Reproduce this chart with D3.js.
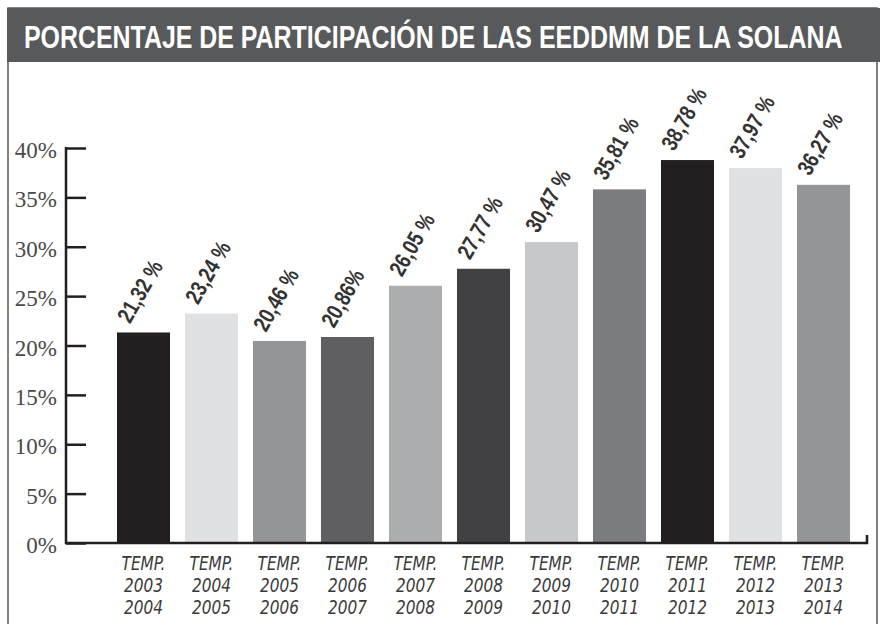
<!DOCTYPE html>
<html>
<head>
  <meta charset="utf-8">
  <script src="https://d3js.org/d3.v7.min.js"></script>
  <style>
    body { margin: 0; background: #fff; }
    svg { display: block; }
  </style>
</head>
<body>
<svg id="chart" width="880" height="624"></svg>
<script>
  // temporadas y porcentajes
  var seasons = ['2003-2004', '2004-2005', '2005-2006', '2006-2007', '2007-2008', '2008-2009',
                 '2009-2010', '2010-2011', '2011-2012', '2012-2013', '2013-2014'];
  var values = [21.32, 23.24, 20.46, 20.86, 26.05, 27.77, 30.47, 35.81, 38.78, 37.97, 36.27];
  var valueLabels = ['21,32 %', '23,24 %', '20,46 %', '20,86%', '26,05 %', '27,77 %',
                     '30,47 %', '35,81 %', '38,78 %', '37,97 %', '36,27 %'];
  var barColors = ['#231f20', '#e0e1e2', '#939598', '#5f5f62', '#acadaf', '#414042',
                   '#c7c8ca', '#7b7c7f', '#231f20', '#e0e1e2', '#939598'];
  var yTicks = [0, 5, 10, 15, 20, 25, 30, 35, 40];

  var sans = '"Liberation Sans", Arial, sans-serif';
  var cond = '"DejaVu Sans Condensed", "DejaVu Sans", sans-serif';

  var svg = d3.select('#chart');

  // marco y cabecera
  svg.append('rect')
    .attr('x', 8).attr('y', 8).attr('width', 869).attr('height', 640)
    .attr('fill', 'none').attr('stroke', '#58595b').attr('stroke-width', 1.5);
  svg.append('rect')
    .attr('x', 7).attr('y', 8).attr('width', 873).attr('height', 54)
    .attr('fill', '#58595b');

  var title = svg.append('text')
    .attr('fill', '#fff')
    .attr('font-family', sans)
    .attr('font-weight', 'bold')
    .attr('font-size', 31)
    .text('PORCENTAJE DE PARTICIPACIÓN DE LAS EEDDMM DE LA SOLANA');
  var tw = title.node().getComputedTextLength();
  title.attr('transform', 'translate(24,47.5) scale(' + (819 / tw) + ',1)');

  var x = d3.scaleBand()
    .domain(seasons)
    .range([109.5, 857.5])
    .paddingInner(0.22)
    .paddingOuter(0.11);

  var y = d3.scaleLinear()
    .domain([0, 40])
    .range([543, 148]);

  // eje y
  var yAxis = svg.append('g')
    .attr('transform', 'translate(66,0)')
    .call(d3.axisRight(y).tickValues(yTicks).tickSize(20).tickFormat(''));
  yAxis.select('.domain').remove();
  yAxis.selectAll('.tick line').attr('stroke', '#231f20').attr('stroke-width', 2.5);

  svg.append('line')
    .attr('x1', 66).attr('x2', 66).attr('y1', y(40) - 1).attr('y2', y(0) + 1.2)
    .attr('stroke', '#231f20').attr('stroke-width', 2.5);

  svg.append('g').selectAll('text')
    .data(yTicks)
    .join('text')
    .attr('x', 57)
    .attr('y', function(d) { return y(d) + 10; })
    .attr('text-anchor', 'end')
    .attr('fill', '#4a4a4a')
    .attr('font-family', '"Liberation Serif", "DejaVu Serif", serif')
    .attr('font-size', 23)
    .text(function(d) { return d + '%'; });

  // barras
  svg.append('g').selectAll('rect')
    .data(values)
    .join('rect')
    .attr('x', function(d, i) { return x(seasons[i]); })
    .attr('y', function(d) { return y(d); })
    .attr('width', x.bandwidth())
    .attr('height', function(d) { return y(0) - y(d); })
    .attr('fill', function(d, i) { return barColors[i]; });

  // linea base
  svg.append('path')
    .attr('d', 'M66,' + y(0) + 'H867V' + (y(0) - 8))
    .attr('fill', 'none')
    .attr('stroke', '#231f20')
    .attr('stroke-width', 2.5);

  // etiquetas de valor
  svg.append('g').selectAll('text')
    .data(values)
    .join('text')
    .attr('transform', function(d, i) {
      return 'translate(' + (x(seasons[i]) + 13) + ',' + (y(d) - 8) + ') rotate(-60) scale(0.8,1)';
    })
    .attr('fill', '#333')
    .attr('font-family', sans)
    .attr('font-weight', 'bold')
    .attr('font-size', 23)
    .text(function(d, i) { return valueLabels[i]; });

  // etiquetas del eje x
  var xg = svg.append('g').selectAll('g')
    .data(seasons)
    .join('g')
    .attr('transform', function(d) {
      return 'translate(' + (x(d) + x.bandwidth() / 2) + ',570) scale(0.85,1)';
    });
  var xl = xg.append('text')
    .attr('text-anchor', 'middle')
    .attr('fill', '#3a3a3a')
    .attr('font-family', cond)
    .attr('font-style', 'italic')
    .attr('font-size', 20);
  xl.append('tspan').attr('x', 0).text('TEMP.');
  xl.append('tspan').attr('x', 0).attr('dy', 22)
    .text(function(d) { return d.split('-')[0]; });
  xl.append('tspan').attr('x', 0).attr('dy', 22)
    .text(function(d) { return d.split('-')[1]; });
</script>
</body>
</html>
